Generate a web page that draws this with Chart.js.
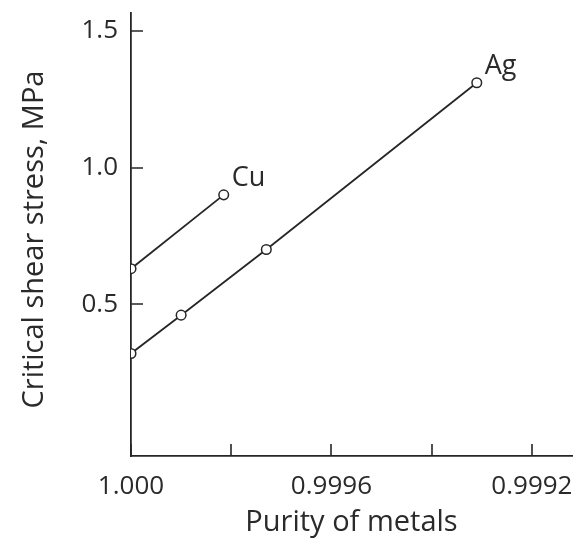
<!DOCTYPE html>
<html><head><meta charset="utf-8">
<script src="https://cdn.jsdelivr.net/npm/chart.js@4"></script>
<style>html,body{margin:0;padding:0;background:#fff}#wrap{width:581px;height:539px}</style>
</head><body><div id="wrap"><canvas id="c" width="581" height="539"></canvas></div>
<script>
const seriesNames = ['Cu', 'Ag'];
const cuPurity = [1.0000, 0.999815];
const cuStress = [0.63, 0.90];
const agPurity = [1.0000, 0.99990, 0.99973, 0.99931];
const agStress = [0.32, 0.46, 0.70, 1.31];
const xTickValues = [1.0000, 0.9998, 0.9996, 0.9994, 0.9992];
const xTickLabels = ['1.000', '', '0.9996', '', '0.9992'];
const yTickValues = [0.5, 1.0, 1.5];
const yTickLabels = ['0.5', '1.0', '1.5'];
const xTitle = 'Purity of metals';
const yTitle = 'Critical shear stress, MPa';

const ink = '#262626';
const textInk = '#2a2a2a';
const FONT = '"Open Sans", "DejaVu Sans", sans-serif';

function pts(xs, ys) { return xs.map((v, i) => ({x: v, y: ys[i]})); }

const decor = {
  id: 'decor',
  afterDraw(chart) {
    const {ctx, chartArea: a, scales: {x, y}} = chart;
    ctx.save();
    ctx.strokeStyle = ink;
    ctx.lineWidth = 1.6;
    ctx.beginPath();
    xTickValues.forEach(v => {
      const px = Math.round(x.getPixelForValue(v));
      ctx.moveTo(px, a.bottom); ctx.lineTo(px, a.bottom - 12);
    });
    yTickValues.forEach(v => {
      const py = Math.round(y.getPixelForValue(v));
      ctx.moveTo(a.left, py); ctx.lineTo(a.left + 12, py);
    });
    ctx.stroke();
    ctx.fillStyle = textInk;
    ctx.font = '27px ' + FONT;
    ctx.textAlign = 'left';
    ctx.textBaseline = 'alphabetic';
    chart.data.datasets.forEach((ds, i) => {
      const meta = chart.getDatasetMeta(i);
      const last = meta.data[meta.data.length - 1];
      ctx.fillText(ds.label, last.x + 8, last.y - 9);
    });
    ctx.font = '29px ' + FONT;
    ctx.textAlign = 'center';
    ctx.fillText(xTitle, (a.left + a.right) / 2, 531);
    ctx.translate(43, (a.top + a.bottom) / 2 + 5);
    ctx.rotate(-Math.PI / 2);
    ctx.fillText(yTitle, 0, 0);
    ctx.restore();
  }
};

new Chart(document.getElementById('c'), {
  type: 'line',
  data: {
    datasets: [
      {label: seriesNames[0], data: pts(cuPurity, cuStress)},
      {label: seriesNames[1], data: pts(agPurity, agStress)}
    ]
  },
  options: {
    responsive: false,
    animation: false,
    devicePixelRatio: 1,
    layout: {padding: {left: 0, right: 9, top: 13, bottom: 0}},
    elements: {
      line: {borderColor: ink, borderWidth: 1.8, tension: 0, fill: false},
      point: {radius: 4.8, borderWidth: 1.5, borderColor: ink, backgroundColor: '#ffffff', pointStyle: 'circle'}
    },
    plugins: {legend: {display: false}, tooltip: {enabled: false}},
    scales: {
      x: {
        type: 'linear', reverse: true, min: 0.99912, max: 1.0,
        afterFit(s) { s.height = 83; s.paddingLeft = 0; s.paddingRight = 0; },
        afterBuildTicks(s) { s.ticks = xTickValues.map(v => ({value: v})); },
        grid: {drawOnChartArea: false, drawTicks: false, color: 'rgba(0,0,0,0)'},
        border: {display: true, color: ink, width: 1.8},
        ticks: {
          padding: 15, color: textInk, font: {family: FONT, size: 26}, maxRotation: 0, autoSkip: false,
          callback(v) { const i = xTickValues.findIndex(t => Math.abs(t - v) < 1e-9); return i >= 0 ? xTickLabels[i] : ''; }
        }
      },
      y: {
        type: 'linear', min: -0.055, max: 1.565,
        afterFit(s) { s.width = 131; s.paddingTop = 0; s.paddingBottom = 0; },
        afterBuildTicks(s) { s.ticks = yTickValues.map(v => ({value: v})); },
        grid: {drawOnChartArea: false, drawTicks: false, color: 'rgba(0,0,0,0)'},
        border: {display: true, color: ink, width: 1.8},
        ticks: {
          padding: 13, color: textInk, font: {family: FONT, size: 26},
          callback(v) { const i = yTickValues.findIndex(t => Math.abs(t - v) < 1e-9); return i >= 0 ? yTickLabels[i] : ''; }
        }
      }
    }
  },
  plugins: [decor]
});
</script></body></html>
